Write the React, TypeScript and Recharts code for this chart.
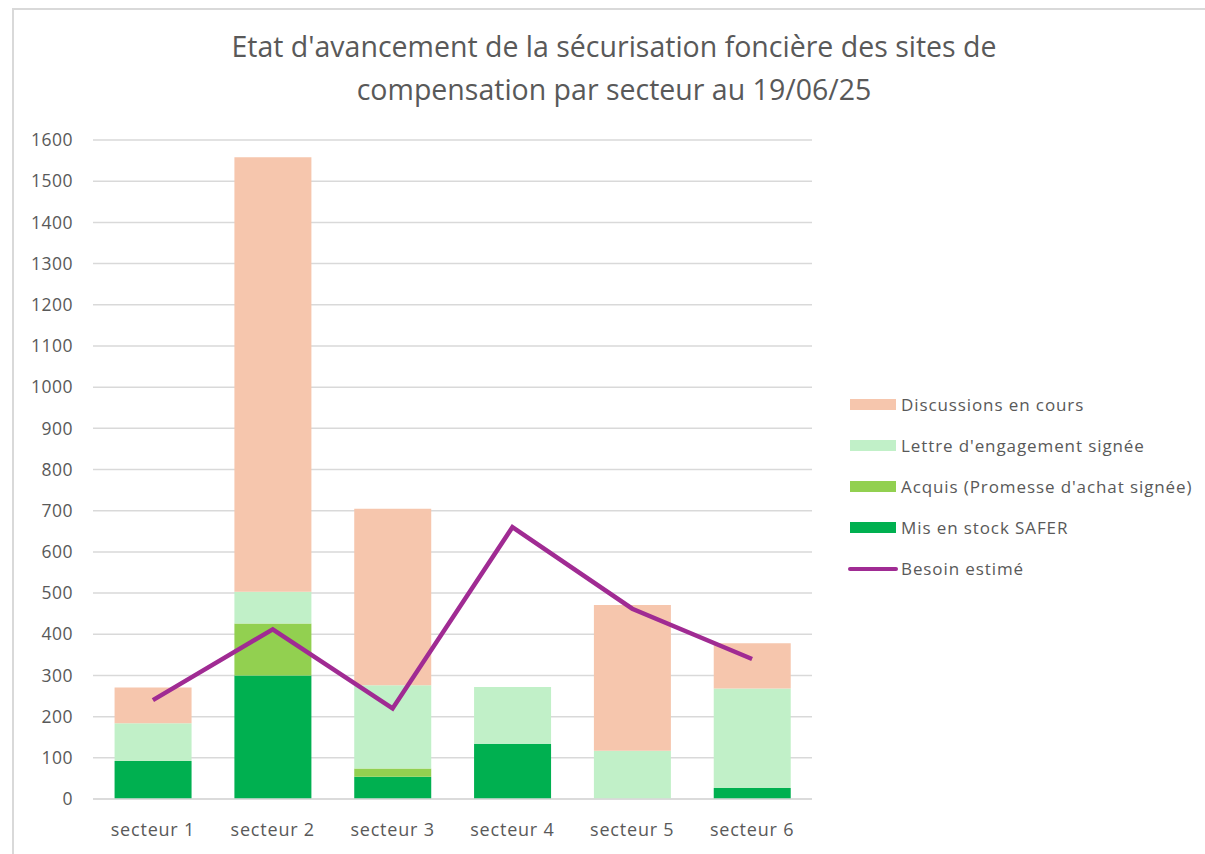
import { ComposedChart, Bar, Line, XAxis, YAxis, CartesianGrid } from 'recharts';

const sectors = ['secteur 1', 'secteur 2', 'secteur 3', 'secteur 4', 'secteur 5', 'secteur 6'];
const stockSafer = [92, 300, 54, 134, 0, 27];
const acquis = [0, 126, 20, 0, 0, 0];
const lettre = [92, 77, 202, 138, 117, 241];
const discussions = [87, 1055, 429, 0, 354, 110];
const besoin = [240, 412, 220, 660, 462, 340];
const yTicks = [0, 100, 200, 300, 400, 500, 600, 700, 800, 900, 1000, 1100, 1200, 1300, 1400, 1500, 1600];

const data = sectors.map((s, i) => ({
  name: s,
  safer: stockSafer[i],
  acquis: acquis[i],
  lettre: lettre[i],
  discussions: discussions[i],
  besoin: besoin[i],
}));

const FONT = '"Open Sans", sans-serif';
const GREY = '#595959';

const legendItems = [
  { label: 'Discussions en cours', color: '#f6c6ad', type: 'rect' },
  { label: "Lettre d'engagement signée", color: '#c1f0c8', type: 'rect' },
  { label: "Acquis (Promesse d'achat signée)", color: '#92d050', type: 'rect' },
  { label: 'Mis en stock SAFER', color: '#00b050', type: 'rect' },
  { label: 'Besoin estimé', color: '#a02b93', type: 'line' },
];

function LegendBox() {
  return (
    <div style={{ fontFamily: FONT, fontSize: 17, letterSpacing: 0.9, color: GREY }}>
      {legendItems.map((it) => (
        <div key={it.label} style={{ display: 'flex', alignItems: 'center', height: 41 }}>
          {it.type === 'rect' ? (
            <div style={{ width: 46, height: 11, background: it.color, marginRight: 5 }} />
          ) : (
            <div style={{ width: 50, height: 4, borderRadius: 2, background: it.color, marginRight: 3, marginLeft: -2 }} />
          )}
          <span>{it.label}</span>
        </div>
      ))}
    </div>
  );
}

export default function App() {
  return (
    <div style={{ position: 'absolute', left: 0, top: 0, width: 1205, height: 854, background: '#fff', overflow: 'hidden' }}>
      <div style={{ position: 'absolute', left: 12, top: 8, width: 1300, height: 900, borderLeft: '2px solid #d9d9d9', borderTop: '2px solid #d9d9d9' }} />
      <div style={{ position: 'absolute', left: 0, top: 25, width: 1228, textAlign: 'center', fontFamily: FONT, fontSize: 28.5, lineHeight: '43px', color: GREY }}>
        Etat d'avancement de la sécurisation foncière des sites de
        <br />
        compensation par secteur au 19/06/25
      </div>
      <div style={{ position: 'absolute', left: 0, top: 0 }}>
        <ComposedChart
          width={1205}
          height={854}
          data={data}
          margin={{ top: 140, right: 393, bottom: 0, left: 0 }}
          barCategoryGap="18%"
        >
          <CartesianGrid vertical={false} stroke="#d9d9d9" strokeWidth={1.5} />
          <XAxis
            dataKey="name"
            interval={0}
            axisLine={{ stroke: '#d9d9d9', strokeWidth: 1.5 }}
            tickLine={false}
            tickSize={0}
            tickMargin={24}
            height={55}
            tick={{ fill: GREY, fontFamily: FONT, fontSize: 18, letterSpacing: 0.8 }}
          />
          <YAxis
            domain={[0, 1600]}
            ticks={yTicks}
            interval={0}
            axisLine={false}
            tickLine={false}
            tickSize={0}
            tickMargin={20}
            width={93}
            tick={{ fill: GREY, fontFamily: FONT, fontSize: 17.5, letterSpacing: 0.5 }}
          />
          <Bar dataKey="safer" stackId="a" fill="#00b050" isAnimationActive={false} />
          <Bar dataKey="acquis" stackId="a" fill="#92d050" isAnimationActive={false} />
          <Bar dataKey="lettre" stackId="a" fill="#c1f0c8" isAnimationActive={false} />
          <Bar dataKey="discussions" stackId="a" fill="#f6c6ad" isAnimationActive={false} />
          <Line
            dataKey="besoin"
            type="linear"
            stroke="#a02b93"
            strokeWidth={4.5}
            dot={false}
            activeDot={false}
            isAnimationActive={false}
          />
        </ComposedChart>
      </div>
      <div style={{ position: 'absolute', left: 850, top: 384, width: 355 }}>
        <LegendBox />
      </div>
    </div>
  );
}
